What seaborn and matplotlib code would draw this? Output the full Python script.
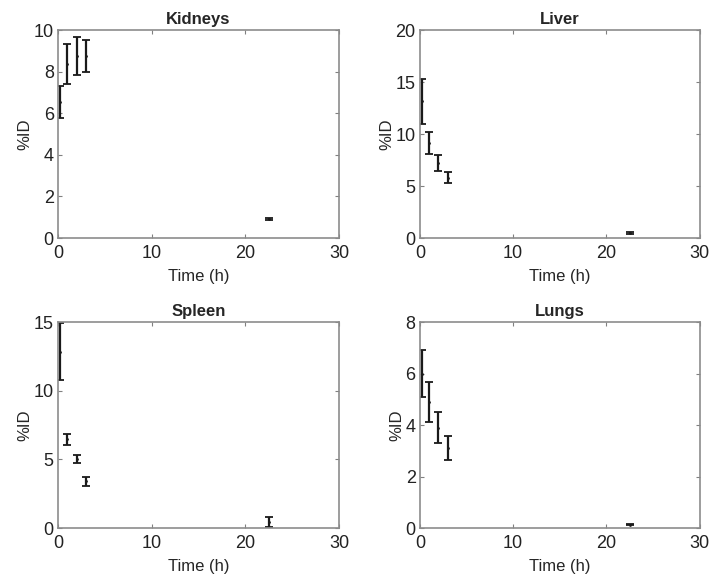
import matplotlib
matplotlib.use("Agg")
import matplotlib.pyplot as plt
import seaborn as sns
import pandas as pd

# time points (h)
time_h = [0.2, 1, 2, 3, 22.5]

organs = ['Kidneys', 'Liver', 'Spleen', 'Lungs']

kidneys_mean = [6.55, 8.37, 8.76, 8.76, 0.93]
kidneys_err = [0.78, 0.96, 0.92, 0.76, 0.05]

liver_mean = [13.15, 9.15, 7.2, 5.8, 0.45]
liver_err = [2.15, 1.05, 0.78, 0.5, 0.1]

spleen_mean = [12.85, 6.47, 5.04, 3.4, 0.42]
spleen_err = [2.05, 0.4, 0.3, 0.32, 0.37]

lungs_mean = [6.0, 4.9, 3.9, 3.1, 0.13]
lungs_err = [0.92, 0.77, 0.6, 0.47, 0.03]

y_max = [10, 20, 15, 8]
y_step = [2, 5, 5, 2]

means = [kidneys_mean, liver_mean, spleen_mean, lungs_mean]
errs = [kidneys_err, liver_err, spleen_err, lungs_err]

sns.set_style('white')
plt.rcParams['font.family'] = ['Liberation Sans', 'DejaVu Sans']

fig = plt.figure(figsize=(7.14, 5.77), dpi=100)

# axes boxes: left, bottom, width, height
positions = [[0.0812, 0.5875, 0.3936, 0.3605],
             [0.588, 0.5875, 0.392, 0.3605],
             [0.0812, 0.0849, 0.3936, 0.357],
             [0.588, 0.0849, 0.392, 0.357]]

for i in range(4):
    ax = fig.add_axes(positions[i])
    df = pd.DataFrame({'time': time_h, 'mean': means[i], 'err': errs[i]})

    ax.errorbar(df['time'], df['mean'], yerr=df['err'], fmt='none',
                ecolor='#1a1a1a', elinewidth=1.6, capsize=3, capthick=1.3)
    sns.scatterplot(data=df, x='time', y='mean', ax=ax, color='#1a1a1a',
                    s=4, linewidth=0, legend=False)

    ax.set_xlim(0, 30)
    ax.set_ylim(0, y_max[i])
    ax.set_xticks([0, 10, 20, 30])
    ax.set_yticks(range(0, y_max[i] + 1, y_step[i]))

    ax.set_title(organs[i], fontsize=12, fontweight='bold', pad=4)
    ax.set_xlabel('Time (h)', fontsize=12, labelpad=5)
    ax.set_ylabel('%ID', fontsize=12, labelpad=1)

    ax.tick_params(direction='in', length=3, width=0.8, color='#808080',
                   labelsize=13, labelcolor='#222222', top=True, right=True,
                   bottom=True, left=True, pad=5)
    ax.tick_params(axis='y', pad=3)
    for side in ['top', 'right', 'bottom', 'left']:
        ax.spines[side].set_visible(True)
        ax.spines[side].set_color('#8c8c8c')
        ax.spines[side].set_linewidth(1.2)

plt.savefig('out.png', dpi=100)
